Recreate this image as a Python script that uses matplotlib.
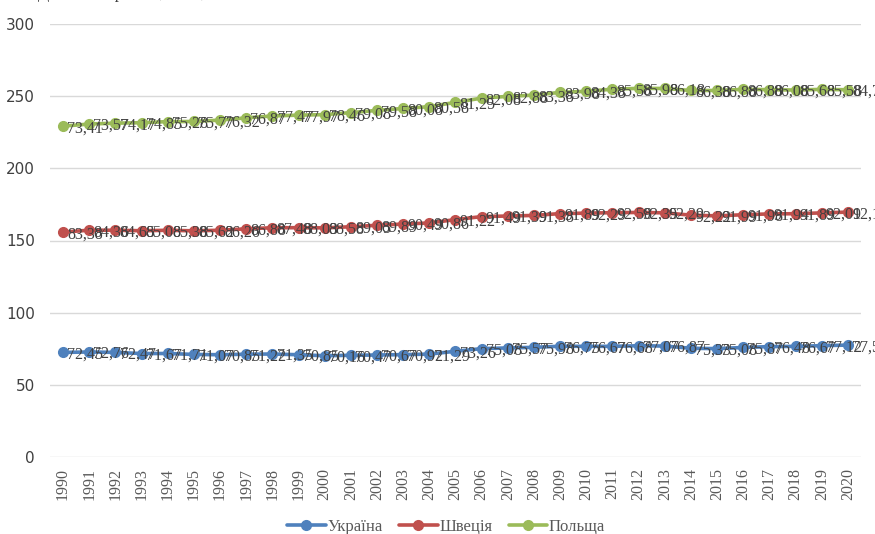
import numpy as np
import matplotlib.pyplot as plt

years = [str(y) for y in range(1990, 2021)]

ukraine = [72.45, 72.76, 72.47, 71.67, 71.71, 71.07, 70.85, 71.22, 71.35, 70.85,
           70.16, 70.47, 70.67, 70.92, 71.29, 73.26, 75.08, 75.57, 75.98, 76.75,
           76.67, 76.68, 77.07, 76.87, 75.33, 75.08, 75.87, 76.48, 76.67, 77.12,
           77.55]
sweden = [83.38, 84.36, 84.65, 85.08, 85.38, 85.62, 86.26, 86.88, 87.48, 88.03,
          88.58, 89.05, 89.89, 90.49, 90.86, 91.22, 91.49, 91.39, 91.38, 91.89,
          92.29, 92.58, 92.35, 92.29, 92.22, 91.99, 91.98, 91.94, 91.89, 92.01,
          92.13]
poland = [73.41, 73.57, 74.17, 74.85, 75.28, 75.77, 76.32, 76.87, 77.47, 77.97,
          78.46, 79.08, 79.58, 80.08, 80.58, 81.25, 82.08, 82.88, 83.38, 83.98,
          84.38, 85.58, 85.98, 86.18, 86.38, 86.88, 86.88, 86.08, 85.68, 85.58,
          84.75]

names = ['Україна', 'Швеція', 'Польща']
colors = ['#4F81BD', '#C0504D', '#9BBB59']

serif = ['Liberation Serif', 'DejaVu Serif']

fig = plt.figure(figsize=(8.75, 5.34), dpi=100)
ax = fig.add_axes([50 / 875, 1 - 457 / 534, 811 / 875, 433 / 534])

x = np.arange(len(years))
series = [ukraine, sweden, poland]
base = np.zeros(len(years))
for vals, name, col in zip(series, names, colors):
    top = base + np.array(vals)
    ax.plot(x, top, color=col, lw=2.6, marker='o', ms=7, label=name,
            solid_capstyle='round', clip_on=False, zorder=3)
    for xi, yi, v in zip(x, top, vals):
        ax.annotate(f'{v:.2f}'.replace('.', ','), (xi, yi), xytext=(3, -1.5),
                    textcoords='offset points', ha='left', va='center',
                    fontsize=11.5, family=serif, color='#404040',
                    annotation_clip=False, zorder=4)
    base = top

ax.set_xlim(-0.5, len(years) - 0.5)
ax.set_ylim(0, 300)
ax.set_yticks(range(0, 301, 50))
ax.set_xticks(x)
ax.set_xticklabels(years, rotation=90, family=serif, fontsize=11.5, color='#595959')
ax.tick_params(axis='y', labelsize=11, colors='#404040', length=0, pad=11)
ax.tick_params(axis='x', length=0, pad=8)
ax.grid(axis='y', color='#d9d9d9', lw=1)
ax.set_axisbelow(True)
for s in ax.spines.values():
    s.set_visible(False)

fig.text(38 / 875, 1 + 2 / 534, 'Динаміка [рівень, 1990, 2020]', family=serif,
         fontsize=12, color='#404040', va='baseline', ha='left')

fig.legend(loc='lower center', bbox_to_anchor=(0.51, -0.03), ncol=3, frameon=False,
           prop={'family': serif, 'size': 12}, handlelength=2.3,
           labelcolor='#595959', columnspacing=1.0, handletextpad=0.1)

fig.savefig('out.png', dpi=100)
